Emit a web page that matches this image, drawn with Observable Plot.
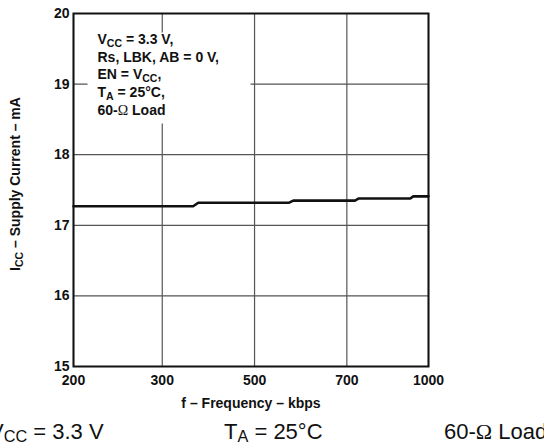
<!DOCTYPE html>
<html><head><meta charset="utf-8">
<script src="https://cdn.jsdelivr.net/npm/d3@7"></script>
<script src="https://cdn.jsdelivr.net/npm/@observablehq/plot@0.6"></script>
<style>
body{margin:0;background:#fff;overflow:hidden;}
#wrap{position:relative;width:544px;height:447px;}
.cap{position:absolute;top:421px;font-family:"Liberation Sans",Arial,sans-serif;font-size:22px;line-height:22px;white-space:nowrap;color:#111;}
.cap sub{font-size:0.74em;vertical-align:-0.2em;line-height:0;}
.om{font-family:"Liberation Serif",serif;}
</style></head><body><div id="wrap"></div>
<script>
// ---- data ----
const xTicks = [200, 300, 500, 700, 1000];
const xTickLabels = ["200", "300", "500", "700", "1000"];
const yTicks = [15, 16, 17, 18, 19, 20];
const freq = [200, 367, 378, 575, 584, 730, 744, 933, 944, 1000];
const icc  = [17.27, 17.27, 17.32, 17.32, 17.35, 17.35, 17.38, 17.38, 17.41, 17.41];
const noteLines = ["V{CC} = 3.3 V,", "Rs, LBK, AB = 0 V,", "EN = V{CC},", "T{A} = 25°C,", "60-Ω Load"];
const xLabel = "f – Frequency – kbps";
const yLabel = "I{CC} – Supply Current – mA";
const captions = ["V{CC} = 3.3 V", "T{A} = 25°C", "60-Ω Load"];

// ---- layout ----
const W = 544, H = 415, ML = 73, MR = 116, MT = 13, MB = 49;
const xFrac = [0, 0.25, 0.51, 0.77, 1];
const data = freq.map((f, i) => ({f, i: icc[i]}));
const bold = {fontSize: 14, fontWeight: "bold"};

const svg = Plot.plot({
  width: W, height: H,
  marginLeft: ML, marginRight: MR, marginTop: MT, marginBottom: MB,
  x: {type: "linear", domain: xTicks, range: xFrac.map(t => ML + t * (W - ML - MR)), label: null},
  y: {domain: [15, 20], label: null},
  style: {fontFamily: "'Liberation Sans', Arial, sans-serif", color: "#111", background: "white"},
  marks: [
    Plot.gridX(xTicks, {stroke: "#555", strokeOpacity: 1, strokeWidth: 1.2}),
    Plot.gridY(yTicks, {stroke: "#555", strokeOpacity: 1, strokeWidth: 1.2}),
    Plot.frame({fill: "white", stroke: "none", insetLeft: 14, insetTop: 19, insetRight: 178, insetBottom: 243}),
    Plot.line(data, {x: "f", y: "i", stroke: "#111", strokeWidth: 2.6}),
    Plot.frame({stroke: "#111", strokeWidth: 2}),
    Plot.axisX({ticks: xTicks, tickSize: 0, tickPadding: 9, label: null, ...bold,
      tickFormat: d => xTickLabels[xTicks.indexOf(d)]}),
    Plot.axisY({ticks: yTicks, tickSize: 0, tickPadding: 4, label: null, ...bold,
      tickFormat: d => String(d)}),
    Plot.text([xLabel], {text: d => d, frameAnchor: "bottom", lineAnchor: "top", dy: 32, ...bold}),
    Plot.text([yLabel], {text: d => d, frameAnchor: "left", textAnchor: "middle", rotate: -90,
      lineAnchor: "middle", dx: -58, dy: -6, ...bold}),
    Plot.text([noteLines.join("\n")], {text: d => d, frameAnchor: "top-left", textAnchor: "start",
      lineAnchor: "top", dx: 24, dy: 18, lineHeight: 1.26, ...bold})
  ]
});

// subscripts and symbol-font omega
const NS = "http://www.w3.org/2000/svg";
function enrich(node) {
  const s = node.textContent;
  if (!/[{Ω]/.test(s)) return;
  node.textContent = "";
  const parts = s.split(/(\{[^}]*\}|Ω)/).filter(p => p);
  let shift = 0;
  for (const p of parts) {
    const t = document.createElementNS(NS, "tspan");
    if (p.startsWith("{")) {
      t.textContent = p.slice(1, -1);
      t.setAttribute("style", "font-size:75%");
      t.setAttribute("dy", 3 - shift); shift = 3;
    } else {
      t.textContent = p;
      if (shift) { t.setAttribute("dy", -shift); shift = 0; }
      if (p === "Ω") t.setAttribute("style", "font-family:'Liberation Serif',serif;font-weight:normal");
    }
    node.appendChild(t);
  }
}
svg.querySelectorAll("text").forEach(text => {
  const spans = [...text.querySelectorAll("tspan")];
  if (spans.length) spans.forEach(enrich); else enrich(text);
});

const wrap = document.getElementById("wrap");
wrap.appendChild(svg);
const capLeft = [-11, 224, 444];
captions.forEach((c, k) => {
  const d = document.createElement("div");
  d.className = "cap";
  d.style.left = capLeft[k] + "px";
  d.innerHTML = c.replace(/\{([^}]*)\}/g, "<sub>$1</sub>").replace("Ω", '<span class="om">Ω</span>');
  wrap.appendChild(d);
});
</script>
</body></html>
